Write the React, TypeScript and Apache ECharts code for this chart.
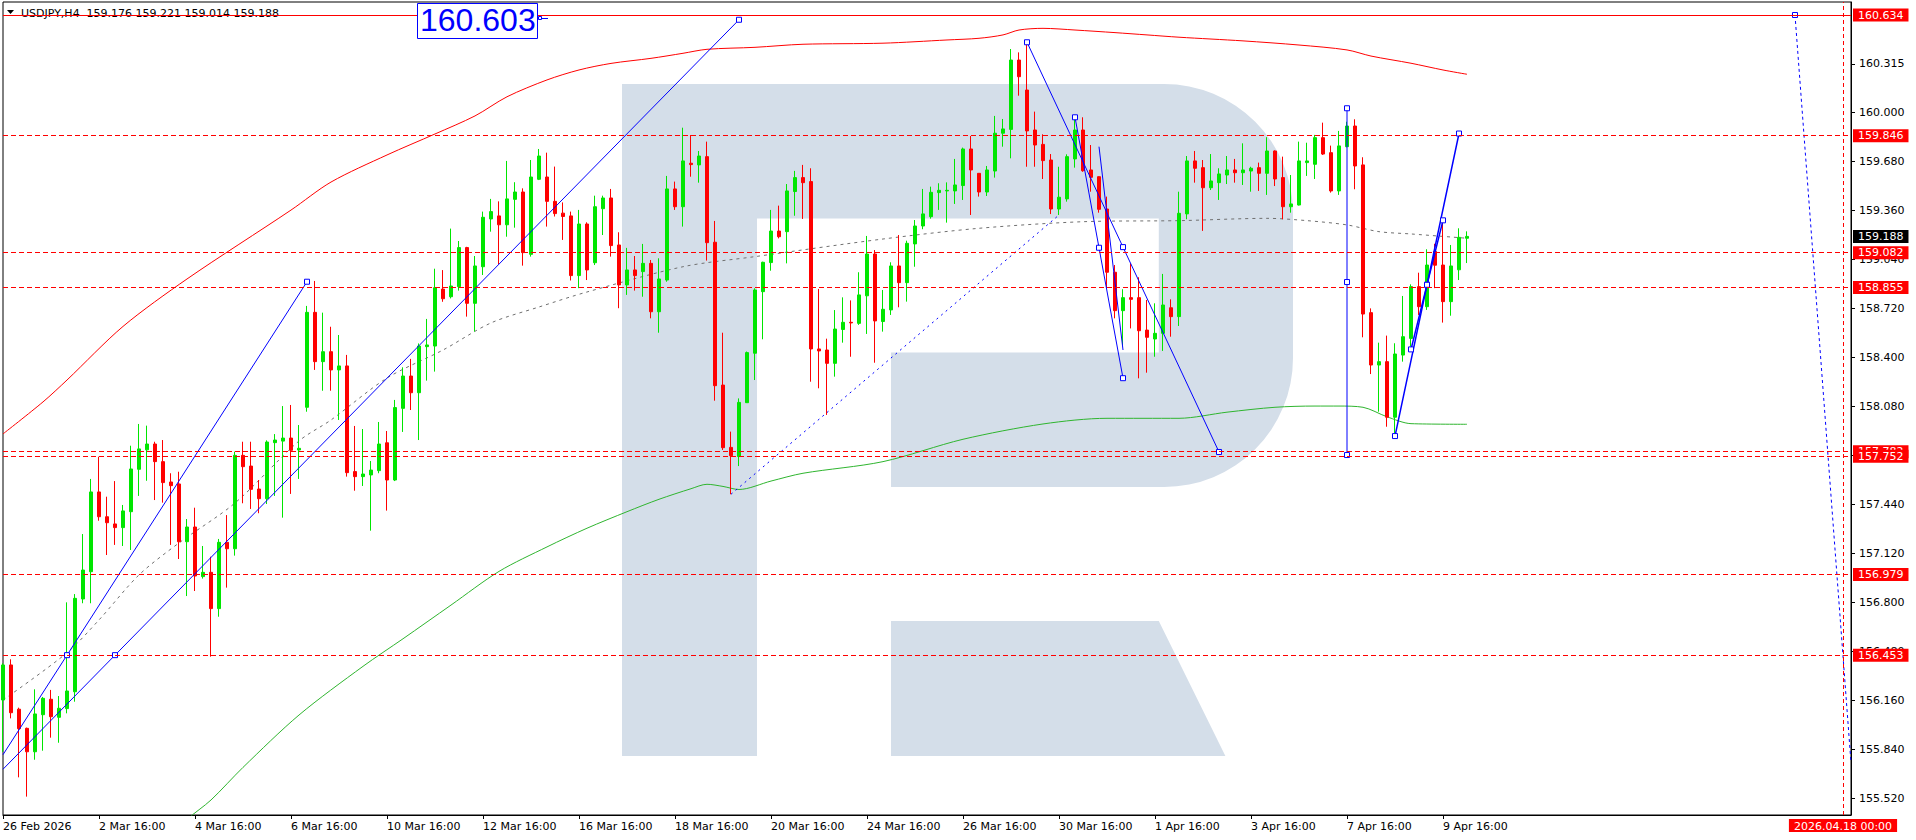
import React, { useEffect, useRef } from "react";
import * as echarts from "echarts";

// ---------- candle data (USDJPY H4), bar 0 = 26 Feb 2026 16:00 ----------
const open = [
  156.160, 156.389, 156.100, 155.975, 155.822, 156.064, 156.165, 156.047, 156.104, 156.214,
  156.820, 156.998, 157.519, 157.357, 157.310, 157.286, 157.390, 157.667, 157.794, 157.832,
  157.717, 157.584, 157.571, 157.194, 157.290, 156.966, 156.994, 156.757, 157.190, 157.148,
  157.758, 157.688, 157.538, 157.475, 157.841, 157.851, 157.871, 157.793, 158.072, 158.692,
  158.370, 158.435, 158.316, 158.342, 157.652, 157.619, 157.630, 157.658, 157.840, 157.597,
  158.065, 158.276, 158.167, 158.468, 158.472, 158.844, 158.794, 158.860, 159.115, 158.751,
  158.990, 159.302, 159.322, 159.264, 159.430, 159.478, 159.071, 159.561, 159.576, 159.417,
  159.340, 159.322, 158.932, 159.269, 159.016, 159.369, 159.439, 159.132, 158.871, 158.969,
  158.958, 159.012, 158.696, 158.903, 159.498, 159.382, 159.666, 159.655, 159.709, 159.150,
  158.217, 157.810, 157.750, 158.102, 158.425, 158.827, 159.017, 159.223, 159.219, 159.481,
  159.572, 159.546, 158.453, 158.446, 158.359, 158.580, 158.627, 158.620, 158.800, 159.073,
  158.632, 158.708, 158.995, 158.886, 159.139, 159.256, 159.317, 159.474, 159.485, 159.485,
  159.520, 159.759, 159.600, 159.478, 159.615, 159.862, 159.887, 160.340, 160.144, 159.883,
  159.789, 159.687, 159.367, 159.433, 159.694, 159.883, 159.622, 159.578, 159.367, 158.954,
  158.703, 158.788, 158.788, 158.576, 158.518, 158.555, 158.722, 158.664, 159.335, 159.681,
  159.637, 159.506, 159.539, 159.589, 159.622, 159.604, 159.615, 159.637, 159.600, 159.746,
  159.572, 159.382, 159.393, 159.670, 159.659, 159.833, 159.735, 159.485, 159.774, 159.909,
  159.655, 158.690, 158.348, 158.370, 158.007, 158.413, 158.522, 158.860, 158.729, 159.090,
  159.001, 158.762, 158.970, 159.176,
];
const high = [
  156.400, 156.426, 156.110, 155.980, 156.230, 156.180, 156.226, 156.186, 156.798, 156.852,
  157.244, 157.604, 157.749, 157.488, 157.590, 157.434, 157.821, 157.963, 157.952, 157.847,
  157.858, 157.641, 157.651, 157.342, 157.416, 157.166, 157.096, 157.212, 157.368, 157.782,
  157.847, 157.847, 157.597, 157.856, 157.897, 158.080, 158.087, 157.956, 158.734, 158.897,
  158.690, 158.598, 158.544, 158.414, 157.950, 157.930, 157.721, 157.976, 157.917, 158.120,
  158.333, 158.388, 158.489, 158.649, 158.977, 158.968, 159.239, 159.158, 159.120, 159.060,
  159.350, 159.433, 159.417, 159.681, 159.542, 159.502, 159.687, 159.759, 159.735, 159.644,
  159.410, 159.350, 159.361, 159.280, 159.454, 159.454, 159.498, 159.215, 159.113, 159.060,
  159.139, 159.034, 159.045, 159.583, 159.546, 159.898, 159.850, 159.746, 159.807, 159.289,
  158.559, 157.913, 158.130, 158.436, 158.849, 159.023, 159.361, 159.389, 159.530, 159.616,
  159.655, 159.633, 158.845, 158.520, 158.707, 158.790, 158.770, 158.954, 159.191, 159.099,
  158.838, 159.019, 159.197, 159.160, 159.295, 159.498, 159.513, 159.535, 159.541, 159.694,
  159.768, 159.844, 159.600, 159.648, 159.975, 159.955, 160.412, 160.390, 160.456, 160.003,
  159.855, 159.726, 159.643, 159.724, 159.966, 159.966, 159.785, 159.580, 159.448, 159.001,
  158.843, 159.012, 158.921, 158.773, 158.751, 158.943, 158.777, 159.480, 159.713, 159.746,
  159.687, 159.726, 159.633, 159.713, 159.694, 159.796, 159.643, 159.670, 159.836, 159.750,
  159.709, 159.589, 159.807, 159.800, 159.851, 159.931, 159.781, 159.877, 159.937, 159.953,
  159.705, 158.718, 158.494, 158.540, 158.490, 158.799, 158.875, 158.951, 159.104, 159.140,
  159.295, 159.132, 159.241, 159.221,
];
const low = [
  155.822, 156.040, 155.655, 155.529, 155.770, 155.829, 155.914, 155.881, 156.073, 156.149,
  156.792, 156.792, 157.331, 157.107, 157.173, 157.166, 157.140, 157.493, 157.592, 157.466,
  157.449, 157.173, 157.081, 156.839, 156.872, 156.953, 156.443, 156.704, 156.894, 157.103,
  157.445, 157.408, 157.380, 157.440, 157.493, 157.351, 157.506, 157.604, 158.043, 158.316,
  158.180, 158.180, 157.989, 157.619, 157.527, 157.558, 157.266, 157.641, 157.397, 157.590,
  157.911, 158.054, 157.858, 158.246, 158.305, 158.761, 158.783, 158.834, 158.664, 158.567,
  158.936, 159.219, 159.006, 159.186, 159.245, 158.997, 159.056, 159.556, 159.252, 159.318,
  159.165, 158.900, 158.850, 158.903, 159.001, 159.197, 159.056, 158.719, 158.806, 158.834,
  158.794, 158.653, 158.559, 158.892, 159.361, 159.252, 159.578, 159.539, 159.030, 158.115,
  157.793, 157.504, 157.688, 158.100, 158.250, 158.516, 158.964, 159.175, 159.012, 159.323,
  159.302, 158.239, 158.196, 158.022, 158.272, 158.494, 158.402, 158.610, 158.551, 158.363,
  158.566, 158.675, 158.725, 158.762, 158.990, 159.235, 159.304, 159.361, 159.278, 159.400,
  159.426, 159.328, 159.448, 159.452, 159.572, 159.774, 159.698, 160.107, 159.643, 159.643,
  159.563, 159.334, 159.328, 159.415, 159.637, 159.610, 159.480, 159.343, 158.849, 158.653,
  158.479, 158.587, 158.261, 158.298, 158.402, 158.440, 158.533, 158.603, 159.300, 159.539,
  159.224, 159.491, 159.426, 159.530, 159.539, 159.524, 159.480, 159.485, 159.459, 159.517,
  159.300, 159.343, 159.390, 159.583, 159.563, 159.720, 159.474, 159.459, 159.770, 159.496,
  158.529, 158.289, 158.043, 157.945, 157.880, 158.370, 158.468, 158.675, 158.708, 158.850,
  158.625, 158.670, 158.903, 159.014,
];
const close = [
  156.389, 156.077, 155.973, 155.822, 156.069, 156.171, 156.051, 156.106, 156.219, 156.824,
  157.009, 157.519, 157.357, 157.318, 157.286, 157.395, 157.669, 157.800, 157.832, 157.717,
  157.580, 157.560, 157.194, 157.290, 156.970, 156.994, 156.757, 157.190, 157.148, 157.758,
  157.684, 157.536, 157.475, 157.845, 157.858, 157.871, 157.791, 157.804, 158.692, 158.370,
  158.435, 158.316, 158.342, 157.645, 157.619, 157.636, 157.662, 157.832, 157.597, 158.070,
  158.276, 158.167, 158.472, 158.479, 158.853, 158.781, 158.864, 159.115, 158.751, 158.995,
  159.313, 159.350, 159.264, 159.433, 159.478, 159.082, 159.576, 159.713, 159.417, 159.337,
  159.318, 158.932, 159.269, 158.969, 159.382, 159.439, 159.128, 158.871, 158.969, 158.932,
  159.012, 158.696, 158.910, 159.498, 159.382, 159.681, 159.657, 159.713, 159.147, 158.213,
  157.808, 157.756, 158.104, 158.429, 158.838, 159.019, 159.223, 159.186, 159.485, 159.572,
  159.539, 158.453, 158.440, 158.359, 158.583, 158.627, 158.623, 158.806, 159.073, 158.636,
  158.712, 158.995, 158.886, 159.143, 159.256, 159.335, 159.476, 159.489, 159.489, 159.524,
  159.759, 159.622, 159.478, 159.622, 159.862, 159.890, 160.340, 160.231, 159.877, 159.785,
  159.683, 159.367, 159.444, 159.709, 159.883, 159.617, 159.574, 159.365, 158.954, 158.703,
  158.788, 158.777, 158.572, 158.529, 158.555, 158.740, 158.664, 159.339, 159.681, 159.633,
  159.506, 159.550, 159.596, 159.622, 159.604, 159.622, 159.633, 159.600, 159.746, 159.563,
  159.382, 159.400, 159.681, 159.681, 159.833, 159.726, 159.485, 159.779, 159.909, 159.648,
  158.681, 158.348, 158.370, 158.007, 158.420, 158.533, 158.860, 158.729, 159.001, 159.000,
  158.762, 158.995, 159.182, 159.188,
];

// ---------- indicator curves [bar index, price] ----------
const upperBand: [number, number][] = [
  [0, 157.898], [5, 158.107], [8, 158.25], [15, 158.6], [23, 158.91], [36, 159.36], [41, 159.543],
  [48, 159.72], [54, 159.857], [59, 159.975], [63, 160.10], [68, 160.21], [72, 160.275], [76, 160.318],
  [81, 160.351], [85, 160.384], [88, 160.41], [94, 160.423], [100, 160.443], [110, 160.45], [118, 160.471],
  [122, 160.482], [125, 160.504], [127, 160.536], [130, 160.547], [134, 160.536], [139, 160.519],
  [143, 160.504], [147, 160.489], [155, 160.465], [162, 160.438], [168, 160.406], [171, 160.366],
  [176, 160.319], [180, 160.275], [183, 160.247],
];
const lowerBand: [number, number][] = [
  [20, 155.22], [23, 155.38], [26, 155.507], [30, 155.72], [37, 156.062], [45, 156.38], [50, 156.56],
  [56, 156.78], [62, 157.0], [68, 157.16], [73, 157.282], [78, 157.39], [82, 157.471], [86, 157.54],
  [88, 157.569], [90, 157.555], [92, 157.535], [96, 157.59], [100, 157.641], [110, 157.717],
  [120, 157.863], [130, 157.963], [138, 158.0], [147, 158.0], [153, 158.04], [159, 158.072],
  [164, 158.08], [167, 158.08], [170, 158.072], [173, 158.01], [176, 157.965], [183, 157.961],
];
const midLine: [number, number][] = [
  [0, 156.16], [8, 156.469], [12, 156.683], [17, 156.977], [22, 157.186], [29, 157.447], [37, 157.852],
  [41, 157.989], [48, 158.263], [55, 158.446], [61, 158.623], [67, 158.727], [73, 158.825], [85, 158.99],
  [94, 159.056], [110, 159.171], [122, 159.241], [135, 159.284], [147, 159.291], [158, 159.306],
  [163, 159.291], [168, 159.263], [172, 159.219], [176, 159.204], [183, 159.176],
];

// ---------- drawn objects: [bar index, price, square marker 1/0] ----------
const channelUpper: [number, number, number][] = [[0, 155.803, 0], [8, 156.453, 1], [38, 158.892, 1]];
const channelLower: [number, number, number][] = [[0, 155.708, 0], [14, 156.453, 1], [92, 160.603, 1]];
const dottedRise: [number, number, number][] = [[91, 157.504, 0], [132, 159.328, 0]];
const peakDrop: [number, number, number][] = [[128, 160.456, 1], [140, 159.118, 1], [152, 157.78, 1]];
const secondDrop: [number, number, number][] = [[134, 159.966, 1], [137, 159.114, 1], [140, 158.262, 1]];
const thirdDrop: [number, number, number][] = [[137, 159.774, 0], [140, 158.446, 0]];
const verticalRange: [number, number, number][] = [[168, 160.025, 1], [168, 158.89, 1], [168, 157.76, 1]];
const riseLong: [number, number, number][] = [[174, 157.884, 1], [178, 158.872, 1], [182, 159.86, 1]];
const riseShort: [number, number, number][] = [[176, 158.45, 1], [178, 158.872, 1], [180, 159.293, 1]];
const forecast: [number, number, number][] = [[224, 160.634, 1], [231, 155.75, 0]];

// ---------- levels, ticks, labels ----------
const solidLevel = 160.634;
const dashedLevels = [159.846, 159.082, 158.855, 157.782, 157.752, 156.979, 156.453];
const yTicks = [155.52, 155.84, 156.16, 156.48, 156.8, 157.12, 157.44, 157.76, 158.08, 158.4, 158.72, 159.04, 159.36, 159.68, 160.0, 160.315];
const yMin = 155.409;
const yMax = 160.719;
const markedTime = "2026.04.18 00:00";
const priceNote = "160.603";
const symbolName = "USDJPY,H4";
const labelEvery = 12;
const totalSlots = 232;

const MONTHS = ["Jan", "Feb", "Mar", "Apr", "May", "Jun", "Jul", "Aug", "Sep", "Oct", "Nov", "Dec"];
const pad = (n: number) => (n < 10 ? "0" + n : "" + n);

function buildTimes(): string[] {
  const out: string[] = [];
  const step = 4 * 3600 * 1000;
  let t = Date.UTC(2026, 1, 26, 16, 0);
  for (let k = 0; k < totalSlots; k++) {
    if (k < open.length) {
      while ([0, 6].includes(new Date(t).getUTCDay())) t += step;
    }
    const d = new Date(t);
    out.push(`${d.getUTCFullYear()}.${pad(d.getUTCMonth() + 1)}.${pad(d.getUTCDate())} ${pad(d.getUTCHours())}:${pad(d.getUTCMinutes())}`);
    t += step;
  }
  return out;
}
const categories = buildTimes();

function axisText(v: string, idx: number) {
  const [date, time] = v.split(" ");
  const [Y, M, D] = date.split(".");
  const dd = parseInt(D, 10);
  const mon = MONTHS[parseInt(M, 10) - 1];
  return idx === 0 ? `${dd} ${mon} ${Y}` : `${dd} ${mon} ${time}`;
}

const LOGO_PATH =
  "M622 84 H1164 A129 129 0 0 1 1293 213 V358 A129 129 0 0 1 1164 487 H891 V352.5 H1158.8 V218.4 H757 V756 H622 Z " +
  "M891 621 H1158.8 L1225.4 756 H891 Z";
let logoRegistered = false;
function ensureLogo() {
  if (logoRegistered) return;
  echarts.graphic.registerShape("rfLogo", echarts.graphic.extendPath(LOGO_PATH, {}) as any);
  logoRegistered = true;
}

const FONT = "DejaVu Sans";
const BLUE = "#0000ff";
const RED = "#ff0000";
const GREEN = "#00e600";

function blueLine(name: string, pts: [number, number, number][], width: number, type: any) {
  return {
    type: "line",
    name,
    data: pts.map(([k, p, m]) => ({ value: [k, p], symbol: m ? "rect" : "none" })),
    symbolSize: 5,
    showSymbol: true,
    showAllSymbol: true,
    itemStyle: { color: "#ffffff", borderColor: BLUE, borderWidth: 1 },
    lineStyle: { color: BLUE, width, type },
    z: 6,
    clip: true,
    silent: true,
    animation: false,
  };
}

function curve(name: string, pts: [number, number][], color: string, type: any) {
  return {
    type: "line",
    name,
    data: pts,
    smooth: 0.3,
    showSymbol: false,
    symbol: "none",
    lineStyle: { color, width: 1, type },
    z: 3,
    clip: true,
    silent: true,
    animation: false,
  };
}

function priceLabel(value: number, bg: string) {
  return {
    show: true,
    position: "end",
    distance: 2,
    formatter: value.toFixed(3),
    color: "#ffffff",
    backgroundColor: bg,
    fontFamily: FONT,
    fontSize: 11,
    lineHeight: 12,
    padding: [1, 5, 0, 5],
  };
}

export default function App() {
  const ref = useRef<HTMLDivElement>(null);

  useEffect(() => {
    if (!ref.current) return;
    ensureLogo();
    const chart = echarts.init(ref.current, null, { renderer: "svg" });
    const last = open.length - 1;
    const candles = open.map((o, i) => [o, close[i], low[i], high[i]]);

    const markData: any[] = [
      { yAxis: solidLevel, lineStyle: { color: RED, type: "solid", width: 1 }, label: priceLabel(solidLevel, RED) },
      ...dashedLevels.map((v) => ({ yAxis: v, lineStyle: { color: RED, type: [5, 3], width: 1 }, label: priceLabel(v, RED) })),
      {
        yAxis: close[last],
        lineStyle: { color: "rgba(0,0,0,0)", width: 1 },
        label: priceLabel(close[last], "#000000"),
      },
      {
        xAxis: markedTime,
        lineStyle: { color: RED, type: [4, 3], width: 1 },
        label: {
          show: true,
          position: "start",
          distance: 4,
          formatter: markedTime,
          color: "#ffffff",
          backgroundColor: RED,
          fontFamily: FONT,
          fontSize: 11,
          lineHeight: 12,
          padding: [1, 5, 0, 5],
        },
      },
    ];

    const titleText = `${symbolName}  ${open[last].toFixed(3)} ${high[last].toFixed(3)} ${low[last].toFixed(3)} ${close[last].toFixed(3)}`;

    chart.setOption({
      animation: false,
      backgroundColor: "#ffffff",
      grid: {
        left: 3,
        top: 2,
        width: 1848,
        height: 813,
        show: true,
        borderColor: "#000000",
        borderWidth: 1,
        backgroundColor: "transparent",
        containLabel: false,
        outerBoundsMode: "none",
      },
      xAxis: {
        type: "category",
        data: categories,
        boundaryGap: false,
        axisLine: { show: true, lineStyle: { color: "#000000", width: 1 } },
        axisTick: {
          show: true,
          length: 4,
          interval: (idx: number) => idx % labelEvery === 0 && idx <= last,
          lineStyle: { color: "#000000" },
        },
        axisLabel: {
          show: true,
          interval: (idx: number) => idx % labelEvery === 0 && idx <= last,
          formatter: (v: string, idx: number) => axisText(v, idx),
          align: "left",
          color: "#000000",
          fontFamily: FONT,
          fontSize: 11,
          margin: 6,
          hideOverlap: false,
        },
        splitLine: { show: false },
      },
      yAxis: {
        type: "value",
        position: "right",
        min: yMin,
        max: yMax,
        scale: true,
        axisLine: { show: true, lineStyle: { color: "#000000", width: 1 } },
        axisTick: { show: true, length: 4, customValues: yTicks, lineStyle: { color: "#000000" } },
        axisLabel: {
          show: true,
          customValues: yTicks,
          formatter: (v: number) => v.toFixed(3),
          color: "#000000",
          fontFamily: FONT,
          fontSize: 11,
          margin: 8,
        },
        splitLine: { show: false },
      },
      graphic: [
        { type: "rfLogo", x: 0, y: 0, z: 0, silent: true, style: { fill: "#d4dee9" } },
        { type: "polygon", z: 1, silent: true, shape: { points: [[7, 10], [14, 10], [10.5, 14]] }, style: { fill: "#000000" } },
        {
          type: "text", z: 1, silent: true, x: 21, y: 13,
          style: { text: titleText, fill: "#000000", font: `11px "${FONT}"`, textVerticalAlign: "middle" },
        },
        {
          type: "rect", z: 20, silent: true,
          shape: { x: 417.5, y: 3.5, width: 120, height: 35 },
          style: { fill: "#ffffff", stroke: BLUE, lineWidth: 1 },
        },
        {
          type: "text", z: 21, silent: true, x: 420, y: 20,
          style: { text: priceNote, fill: BLUE, font: '32px "Liberation Sans"', textVerticalAlign: "middle" },
        },
        { type: "line", z: 21, silent: true, shape: { x1: 538, y1: 18.5, x2: 548, y2: 18.5 }, style: { stroke: BLUE, lineWidth: 1 } },
        { type: "rect", z: 21, silent: true, shape: { x: 538.5, y: 16.5, width: 3, height: 3 }, style: { fill: "#ffffff", stroke: BLUE, lineWidth: 1 } },
      ],
      series: [
        curve("upper", upperBand, RED, "solid"),
        curve("lower", lowerBand, "#2fb52f", "solid"),
        curve("middle", midLine, "#707070", [3, 4]),
        {
          type: "candlestick",
          name: "USDJPY",
          data: candles,
          barWidth: 4,
          clip: true,
          z: 4,
          silent: true,
          itemStyle: {
            color: GREEN,
            color0: RED,
            borderColor: GREEN,
            borderColor0: RED,
            borderWidth: 1,
          },
          markLine: {
            silent: true,
            symbol: ["none", "none"],
            precision: 3,
            animation: false,
            z: 8,
            data: markData,
          },
        },
        blueLine("channelUpper", channelUpper, 1, "solid"),
        blueLine("channelLower", channelLower, 1, "solid"),
        blueLine("dottedRise", dottedRise, 1, [2, 4]),
        blueLine("peakDrop", peakDrop, 1, "solid"),
        blueLine("secondDrop", secondDrop, 1, "solid"),
        blueLine("thirdDrop", thirdDrop, 1, "solid"),
        blueLine("verticalRange", verticalRange, 1, "solid"),
        blueLine("riseLong", riseLong, 1.5, "solid"),
        blueLine("riseShort", riseShort, 1.5, "solid"),
        blueLine("forecast", forecast, 1, [3, 3]),
      ],
    });

    return () => chart.dispose();
  }, []);

  return (
    <div
      ref={ref}
      style={{ position: "fixed", left: 0, top: 0, width: 1916, height: 840, background: "#ffffff" }}
    />
  );
}
